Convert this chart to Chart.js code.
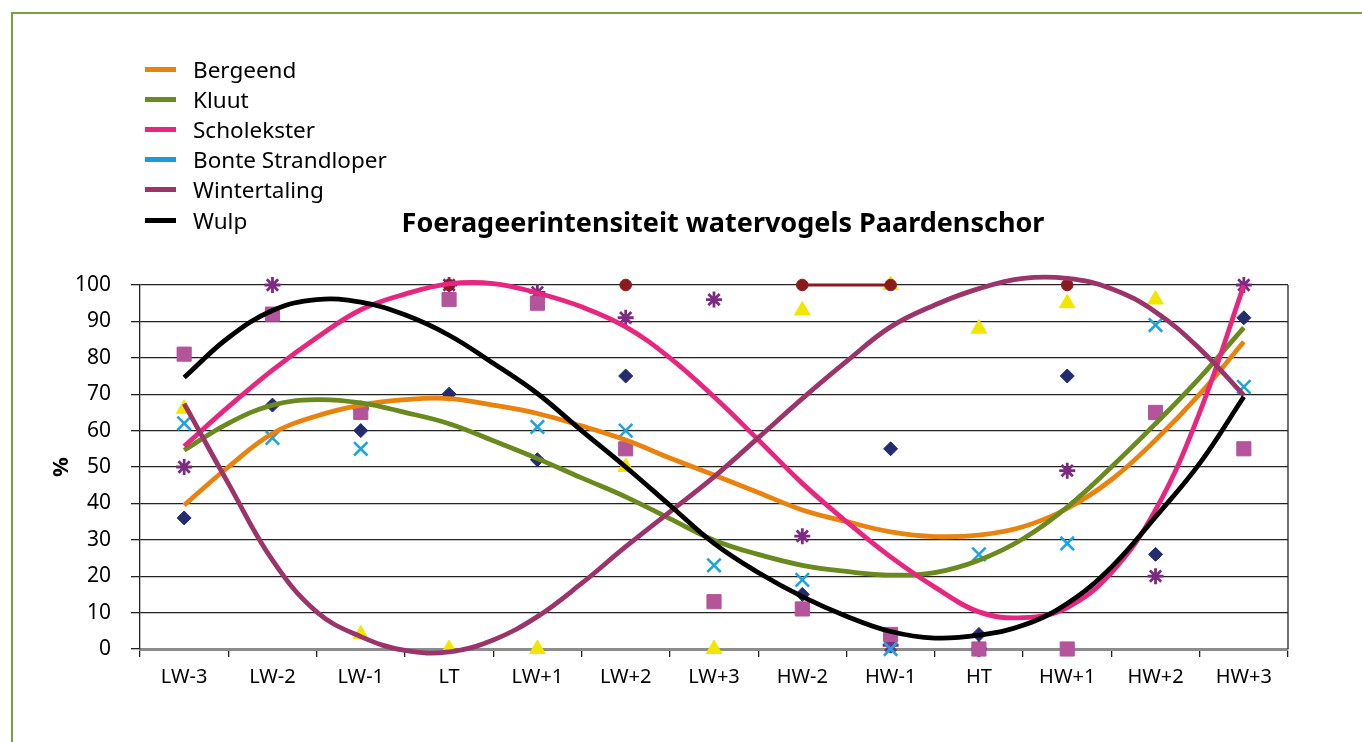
<!DOCTYPE html>
<html>
<head>
<meta charset="utf-8">
<script src="https://cdn.jsdelivr.net/npm/chart.js@4/dist/chart.umd.min.js"></script>
<style>
  html, body { margin: 0; padding: 0; background: #fff; width: 1362px; height: 742px; overflow: hidden; }
  #frame { position: absolute; left: 11px; top: 12px; width: 1400px; height: 800px; border-left: 2px solid #77a23a; border-top: 2px solid #77a23a; box-sizing: border-box; }
  #wrap { position: absolute; left: 0; top: 0; width: 1362px; height: 742px; }
  #title { position: absolute; top: 203px; left: 723px; transform: translateX(-50%); font: bold 27px "Noto Sans", sans-serif; color: #000; white-space: nowrap; }
  #legend { position: absolute; left: 0; top: 0; }
  .row { position: absolute; left: 145px; height: 30px; display: flex; align-items: center; font: 22.5px "Noto Sans", sans-serif; color: #000; white-space: nowrap; }
  .sw { display: inline-block; width: 31px; height: 5px; margin-right: 17px; }
</style>
</head>
<body>
<div id="frame"></div>
<div id="wrap"><canvas id="c" width="1362" height="742"></canvas></div>
<div id="title"></div>
<div id="legend"></div>
<script>
// ---------- data ----------
const chartTitle = "Foerageerintensiteit watervogels Paardenschor";
const categories = ["LW-3", "LW-2", "LW-1", "LT", "LW+1", "LW+2", "LW+3", "HW-2", "HW-1", "HT", "HW+1", "HW+2", "HW+3"];
const yTicks = [0, 10, 20, 30, 40, 50, 60, 70, 80, 90, 100];
const seriesNames = ["Bergeend", "Kluut", "Scholekster", "Bonte Strandloper", "Wintertaling", "Wulp"];

// observed points (one value per category, null = no marker)
const obsDiamond  = [36, 67, 60, 70, 52, 75, null, 15, 55, 4, 75, 26, 91];
const obsSquare   = [81, 92, 65, 96, 95, 55, 13, 11, 4, 0, 0, 65, 55];
const obsTriangle = [66, null, 4, 0, 0, 50, 0, 93, 100, 88, 95, 96, null];
const obsCross    = [62, 58, 55, null, 61, 60, 23, 19, 0, 26, 29, 89, 72];
const obsStar     = [50, 100, 66, 100, 98, 91, 96, 31, 1, 0, 49, 20, 100];
const obsCircle   = [null, null, null, 100, null, 100, null, 100, 100, null, 100, null, null];

// trend curves at every half category step
const curveX = [0, 0.5, 1, 1.5, 2, 2.5, 3, 3.5, 4, 4.5, 5, 5.5, 6, 6.5, 7, 7.5, 8, 8.5, 9, 9.5, 10, 10.5, 11, 11.5, 12];
const trendBergeend     = [39.5, 50, 59.2, 64, 67, 68.5, 68.8, 67, 64.7, 61.3, 57.4, 52.5, 47.8, 43, 38.2, 35, 32.2, 30.9, 31.3, 33.6, 38.6, 46.5, 57.4, 70, 84.4];
const trendKluut        = [54.6, 62, 67, 68.5, 67.6, 65, 61.9, 57.2, 52.3, 47, 41.8, 35.8, 29.9, 26, 23, 21.3, 20.3, 21, 24.4, 30.3, 39, 50, 61.9, 74.5, 88.3];
const trendScholekster  = [55.7, 66.5, 76.6, 85.5, 93.2, 97.5, 100.3, 100.4, 97.8, 94, 88.5, 80, 69.3, 57.5, 45.5, 35, 25.3, 17, 10.2, 8.6, 11.4, 21, 38.2, 65, 99.9];
const trendBonte        = [];
const trendWintertaling = [67.4, 45.5, 24.4, 10.2, 3.4, -0.4, -0.8, 2.5, 8.9, 18, 28.1, 37.7, 47.3, 58, 68.8, 79, 88.5, 94.5, 99, 101.8, 101.8, 99, 92.6, 82.5, 69.7];
const trendWulp         = [74.6, 85.5, 93, 96, 95.3, 91.8, 86.2, 78.5, 70.2, 60, 50, 39.5, 29, 21, 14.4, 9, 4.8, 3, 3.8, 6.5, 12.5, 22.5, 36.3, 51, 69.3];

// ---------- styles ----------
const lineColors = ["#e8830f", "#6a8a1f", "#e6267f", "#1b9bd7", "#9b3468", "#000000"];
const trends = [trendBergeend, trendKluut, trendScholekster, trendBonte, trendWintertaling, trendWulp];

const FONT = "'Noto Sans', 'DejaVu Sans', sans-serif";
Chart.defaults.font.family = FONT;
Chart.defaults.color = "#000";

document.getElementById("title").textContent = chartTitle;
const legendEl = document.getElementById("legend");
const legendRowY = [54, 84, 114, 144, 174, 205];
seriesNames.forEach((n, i) => {
  const r = document.createElement("div");
  r.className = "row";
  r.style.top = legendRowY[i] + "px";
  const s = document.createElement("span");
  s.className = "sw";
  s.style.background = lineColors[i];
  r.appendChild(s);
  r.appendChild(document.createTextNode(n));
  legendEl.appendChild(r);
});

function pts(vals, xs) {
  return vals.map((v, i) => ({ x: xs ? xs[i] : i, y: v }));
}

const datasets = [];
// trend lines (on top)
trends.forEach((t, i) => {
  datasets.push({
    label: seriesNames[i],
    data: pts(t, curveX),
    xAxisID: "x", yAxisID: "y",
    borderColor: lineColors[i],
    backgroundColor: lineColors[i],
    borderWidth: 4.8,
    pointRadius: 0,
    tension: 0.4,
    fill: false,
    clip: false,
    order: 10 - i
  });
});

function markerSet(vals, style, color, radius, bw, opts) {
  return Object.assign({
    data: pts(vals),
    xAxisID: "x", yAxisID: "y",
    showLine: false,
    pointStyle: style,
    pointRadius: radius,
    pointBorderWidth: bw,
    pointBackgroundColor: color,
    pointBorderColor: color,
    borderColor: color,
    backgroundColor: color,
    clip: false,
    order: 20
  }, opts || {});
}
datasets.push(markerSet(obsDiamond, "rectRot", "#232c6d", 7, 1));
datasets.push(markerSet(obsSquare, "rect", "#b4549b", 10, 1));
datasets.push(markerSet(obsTriangle, "triangle", "#f2e500", 9, 1));
datasets.push(markerSet(obsCross, "crossRot", "#1ea4dc", 9.5, 2.6));
datasets.push(markerSet(obsStar, "star", "#7c2b81", 8, 2.8));
datasets.push(markerSet(obsCircle, "circle", "#8a1a1e", 5.8, 1, { showLine: true, spanGaps: false, borderWidth: 3, order: 19 }));

const rightBorder = {
  id: "rightBorder",
  beforeDatasetsDraw(chart) {
    const a = chart.chartArea, c = chart.ctx;
    c.save();
    c.strokeStyle = "#222";
    c.lineWidth = 1.3;
    c.beginPath();
    c.moveTo(a.right, a.top);
    c.lineTo(a.right, a.bottom);
    c.stroke();
    c.restore();
  }
};

new Chart(document.getElementById("c"), {
  type: "line",
  data: { datasets },
  options: {
    responsive: false,
    animation: false,
    events: [],
    layout: { padding: { left: 45, right: 74, top: 285, bottom: 0 } },
    plugins: { legend: { display: false }, tooltip: { enabled: false }, title: { display: false } },
    scales: {
      x: { type: "linear", display: false, min: -0.5, max: 12.5 },
      xc: {
        type: "category",
        labels: categories,
        position: "bottom",
        offset: true,
        grid: { offset: true, drawOnChartArea: false, drawTicks: true, tickLength: 8, color: "#222", lineWidth: 1.3 },
        border: { display: true, color: "#8c8c8c", width: 3 },
        ticks: { font: { size: 20 }, color: "#000", padding: 8, maxRotation: 0, autoSkip: false },
        afterFit(s) { s.height = 93; }
      },
      y: {
        type: "linear",
        min: 0, max: 100,
        afterBuildTicks(s) { s.ticks = yTicks.map(v => ({ value: v })); },
        grid: {
          color: c => (c.tick && c.tick.value === 0 ? "rgba(0,0,0,0)" : "#222"),
          tickColor: "#222",
          lineWidth: 1.3,
          tickLength: 9,
          drawTicks: true
        },
        border: { display: true, color: "#222", width: 1.3 },
        ticks: { font: { size: 21 }, color: "#000", padding: 20 },
        title: { display: true, text: "%", font: { size: 22, weight: "bold" }, color: "#000", padding: { top: 4, bottom: 4 } },
        afterFit(s) { s.width = 95; }
      }
    }
  },
  plugins: [rightBorder]
});
</script>
</body>
</html>
